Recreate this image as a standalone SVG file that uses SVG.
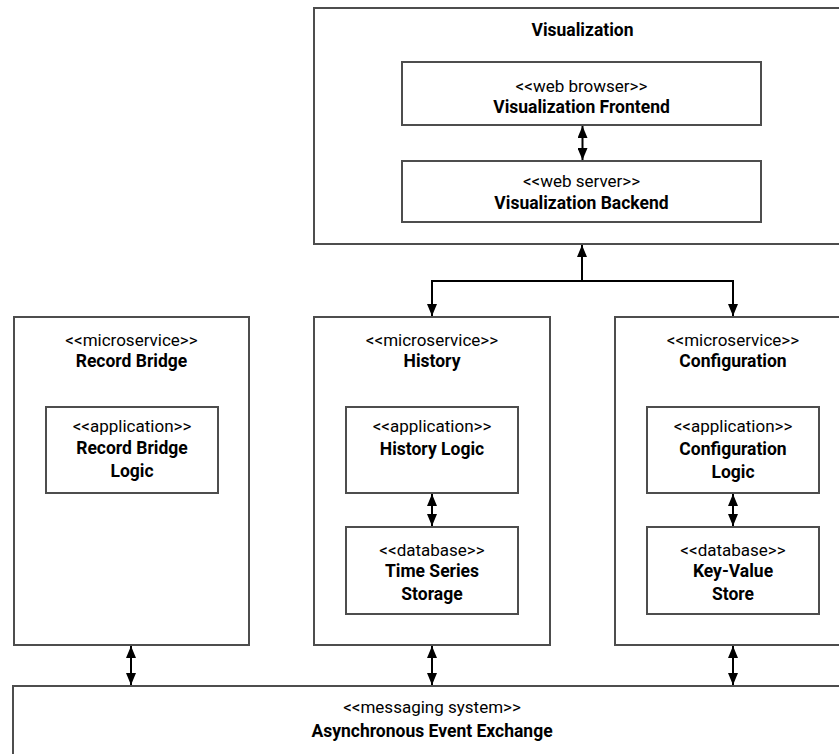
<svg xmlns="http://www.w3.org/2000/svg" width="839" height="754" viewBox="0 0 839 754">
  <style>
    .box { fill: #ffffff; stroke: #4d4d4d; stroke-width: 2; }
    .st { font-family: Roboto, "Liberation Sans", sans-serif; font-size: 17px; fill: #000; text-anchor: middle; }
    .nm { font-family: Roboto, "Liberation Sans", sans-serif; font-size: 17.5px; font-weight: bold; fill: #000; text-anchor: middle; }
    .link { fill: none; stroke: #000; stroke-width: 2; }
  </style>
  <defs>
    <marker id="head" viewBox="0 0 12 10" refX="12" refY="5" markerWidth="12" markerHeight="10" markerUnits="userSpaceOnUse" orient="auto-start-reverse">
      <path d="M0,0 L12,5 L0,10 Z" fill="#000"/>
    </marker>
  </defs>

  <rect width="839" height="754" fill="#ffffff"/>

  <g id="visualization">
    <rect class="box" x="314" y="8" width="537" height="236"/>
    <text class="nm" x="582.5" y="36">Visualization</text>
  </g>
  <g id="visualization-frontend">
    <rect class="box" x="402" y="62" width="359" height="63"/>
    <text class="st" x="581.5" y="92">&lt;&lt;web browser&gt;&gt;</text>
    <text class="nm" x="581.5" y="113">Visualization Frontend</text>
  </g>
  <g id="visualization-backend">
    <rect class="box" x="402" y="161" width="359" height="61"/>
    <text class="st" x="581.5" y="187">&lt;&lt;web server&gt;&gt;</text>
    <text class="nm" x="581.5" y="209">Visualization Backend</text>
  </g>

  <g id="record-bridge">
    <rect class="box" x="14" y="317" width="235" height="328"/>
    <text class="st" x="131.5" y="346">&lt;&lt;microservice&gt;&gt;</text>
    <text class="nm" x="131.5" y="367">Record Bridge</text>
  </g>
  <g id="record-bridge-logic">
    <rect class="box" x="46" y="407" width="172" height="86"/>
    <text class="st" x="132" y="432">&lt;&lt;application&gt;&gt;</text>
    <text class="nm" x="132" y="454">Record Bridge</text>
    <text class="nm" x="132" y="477">Logic</text>
  </g>

  <g id="history">
    <rect class="box" x="314" y="317" width="236" height="328"/>
    <text class="st" x="432" y="346">&lt;&lt;microservice&gt;&gt;</text>
    <text class="nm" x="432" y="367">History</text>
  </g>
  <g id="history-logic">
    <rect class="box" x="346" y="407" width="172" height="86"/>
    <text class="st" x="432" y="432">&lt;&lt;application&gt;&gt;</text>
    <text class="nm" x="432" y="455">History Logic</text>
  </g>
  <g id="time-series-storage">
    <rect class="box" x="346" y="527" width="172" height="87"/>
    <text class="st" x="432" y="556">&lt;&lt;database&gt;&gt;</text>
    <text class="nm" x="432" y="577">Time Series</text>
    <text class="nm" x="432" y="600">Storage</text>
  </g>

  <g id="configuration">
    <rect class="box" x="615" y="317" width="236" height="328"/>
    <text class="st" x="733" y="346">&lt;&lt;microservice&gt;&gt;</text>
    <text class="nm" x="733" y="367">Configuration</text>
  </g>
  <g id="configuration-logic">
    <rect class="box" x="647" y="407" width="172" height="86"/>
    <text class="st" x="733" y="432">&lt;&lt;application&gt;&gt;</text>
    <text class="nm" x="733" y="455">Configuration</text>
    <text class="nm" x="733" y="478">Logic</text>
  </g>
  <g id="key-value-store">
    <rect class="box" x="647" y="527" width="172" height="87"/>
    <text class="st" x="733" y="556">&lt;&lt;database&gt;&gt;</text>
    <text class="nm" x="733" y="577">Key-Value</text>
    <text class="nm" x="733" y="600">Store</text>
  </g>

  <g id="event-exchange">
    <rect class="box" x="13" y="686" width="838" height="90"/>
    <text class="st" x="432" y="713">&lt;&lt;messaging system&gt;&gt;</text>
    <text class="nm" x="432" y="737">Asynchronous Event Exchange</text>
  </g>

  <g id="connectors">
    <path class="link" d="M582.5,126 V160" marker-start="url(#head)" marker-end="url(#head)"/>
    <path class="link" d="M582,281 V245" marker-end="url(#head)"/>
    <path class="link" d="M432,316 V281 H733 V316" marker-start="url(#head)" marker-end="url(#head)"/>
    <path class="link" d="M432,494 V526" marker-start="url(#head)" marker-end="url(#head)"/>
    <path class="link" d="M733,494 V526" marker-start="url(#head)" marker-end="url(#head)"/>
    <path class="link" d="M131,646 V685" marker-start="url(#head)" marker-end="url(#head)"/>
    <path class="link" d="M432,646 V685" marker-start="url(#head)" marker-end="url(#head)"/>
    <path class="link" d="M733,646 V685" marker-start="url(#head)" marker-end="url(#head)"/>
  </g>
</svg>
